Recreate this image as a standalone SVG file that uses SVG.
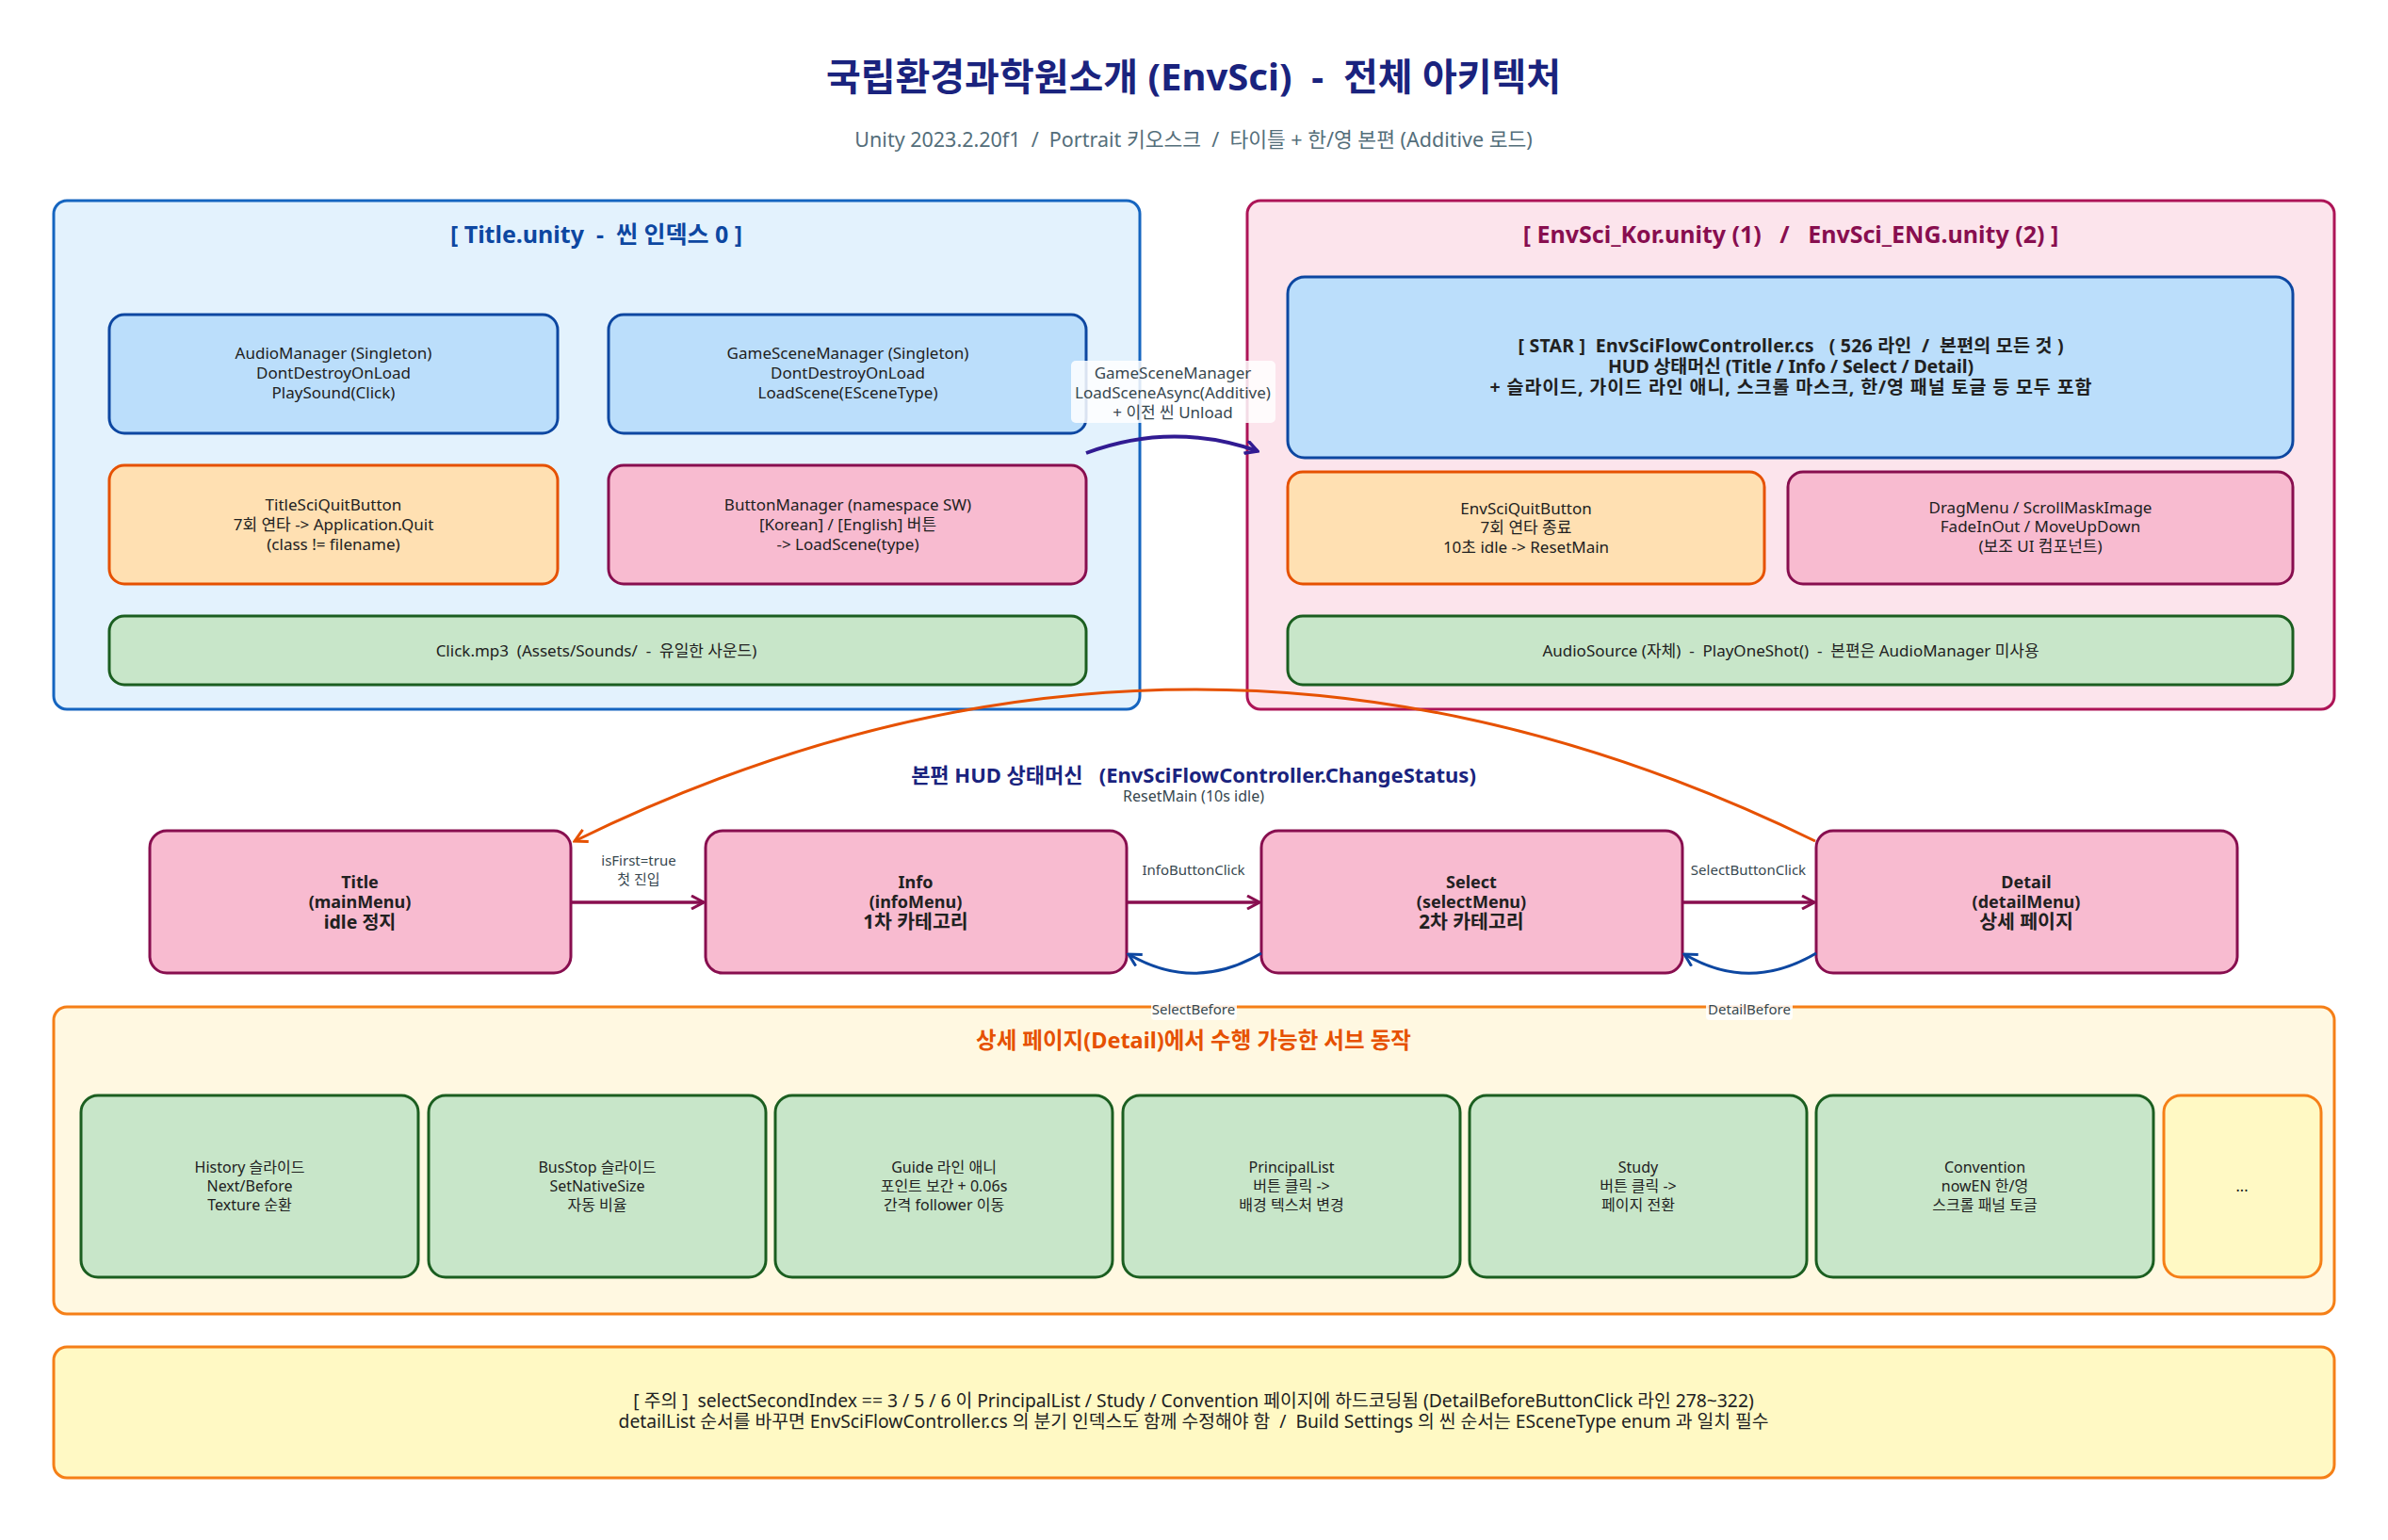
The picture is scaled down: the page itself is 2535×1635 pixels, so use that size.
<svg xmlns="http://www.w3.org/2000/svg" width="2535" height="1635" viewBox="0 0 2535 1635">
<style>
text { font-family: "Noto Sans", "Noto Sans CJK KR", sans-serif; text-anchor: middle; dominant-baseline: central; white-space: pre; }
.h1 { font-size: 40px; font-weight: 700; fill: #1a237e; }
.sub { font-size: 21.5px; fill: #546e7a; }
.ct { font-size: 25px; font-weight: 700; }
.t { font-size: 17px; fill: #212121; }
.s { font-size: 16px; fill: #212121; }
.tb { font-size: 19.5px; fill: #212121; font-weight: 700; }
.st { font-size: 18px; fill: #212121; font-weight: 700; }
.stk { font-size: 20.5px; fill: #212121; font-weight: 700; }
.lbl { font-size: 15px; fill: #37474f; }
.nt { font-size: 19.3px; fill: #212121; }
.blue { fill: #bbdefb; stroke: #0d47a1; stroke-width: 3; }
.orange { fill: #ffe0b2; stroke: #e65100; stroke-width: 3; }
.pink { fill: #f8bbd0; stroke: #880e4f; stroke-width: 3; }
.green { fill: #c8e6c9; stroke: #1b5e20; stroke-width: 3; }
.yellow { fill: #fff9c4; stroke: #f57f17; stroke-width: 3; }
.lblbg { fill: #ffffff; fill-opacity: 0.85; }
</style>
<defs>
<marker id="ahPurple" viewBox="0 0 16 16" refX="14" refY="8" markerWidth="16" markerHeight="16" markerUnits="userSpaceOnUse" orient="auto"><path d="M1,1 L14,8 L1,15" fill="none" stroke="#311b92" stroke-width="3.5"/></marker>
<marker id="ahRed" viewBox="0 0 16 16" refX="14" refY="8" markerWidth="16" markerHeight="16" markerUnits="userSpaceOnUse" orient="auto"><path d="M1,1 L14,8 L1,15" fill="none" stroke="#880e4f" stroke-width="3"/></marker>
<marker id="ahBlue" viewBox="0 0 16 16" refX="14" refY="8" markerWidth="16" markerHeight="16" markerUnits="userSpaceOnUse" orient="auto"><path d="M1,1 L14,8 L1,15" fill="none" stroke="#0d47a1" stroke-width="3"/></marker>
<marker id="ahOrange" viewBox="0 0 16 16" refX="14" refY="8" markerWidth="16" markerHeight="16" markerUnits="userSpaceOnUse" orient="auto"><path d="M1,1 L14,8 L1,15" fill="none" stroke="#e65100" stroke-width="3"/></marker>
</defs>
<rect width="2535" height="1635" fill="#ffffff"/>

<text class="h1" x="1267" y="80">국립환경과학원소개 (EnvSci)  -  전체 아키텍처</text>
<text class="sub" x="1267" y="147">Unity 2023.2.20f1  /  Portrait 키오스크  /  타이틀 + 한/영 본편 (Additive 로드)</text>

<g id="title-scene">
<rect x="57" y="213" width="1153" height="540" rx="14" fill="#e3f2fd" stroke="#1565c0" stroke-width="3"/>
<text class="ct" x="633" y="248" fill="#0d47a1">[ Title.unity  -  씬 인덱스 0 ]</text>
</g>
<g id="kor-eng-scene">
<rect x="1324" y="213" width="1154" height="540" rx="14" fill="#fce4ec" stroke="#ad1457" stroke-width="3"/>
<text class="ct" x="1901" y="248" fill="#880e4f">[ EnvSci_Kor.unity (1)   /   EnvSci_ENG.unity (2) ]</text>
</g>

<g id="audio-manager">
<rect class="blue" x="116" y="334" width="476" height="126" rx="16"/>
<text class="t" x="354" y="374">AudioManager (Singleton)</text>
<text class="t" x="354" y="395">DontDestroyOnLoad</text>
<text class="t" x="354" y="416">PlaySound(Click)</text>
</g>
<g id="game-scene-manager">
<rect class="blue" x="646" y="334" width="507" height="126" rx="16"/>
<text class="t" x="900" y="374">GameSceneManager (Singleton)</text>
<text class="t" x="900" y="395">DontDestroyOnLoad</text>
<text class="t" x="900" y="416">LoadScene(ESceneType)</text>
</g>
<g id="title-quit-button">
<rect class="orange" x="116" y="494" width="476" height="126" rx="16"/>
<text class="t" x="354" y="535">TitleSciQuitButton</text>
<text class="t" x="354" y="556">7회 연타 -&gt; Application.Quit</text>
<text class="t" x="354" y="577">(class != filename)</text>
</g>
<g id="button-manager">
<rect class="pink" x="646" y="494" width="507" height="126" rx="16"/>
<text class="t" x="900" y="535">ButtonManager (namespace SW)</text>
<text class="t" x="900" y="556">[Korean] / [English] 버튼</text>
<text class="t" x="900" y="577">-&gt; LoadScene(type)</text>
</g>
<g id="click-mp3">
<rect class="green" x="116" y="654" width="1037" height="73" rx="16"/>
<text class="t" x="633" y="690">Click.mp3  (Assets/Sounds/  -  유일한 사운드)</text>
</g>

<g id="flow-controller">
<rect class="blue" x="1367" y="294" width="1067" height="192" rx="18"/>
<text class="tb" x="1901" y="366" textLength="579" lengthAdjust="spacing">[ STAR ]  EnvSciFlowController.cs   ( 526 라인  /  본편의 모든 것 )</text>
<text class="tb" x="1901" y="388" textLength="388" lengthAdjust="spacing">HUD 상태머신 (Title / Info / Select / Detail)</text>
<text class="tb" x="1901" y="410" textLength="639" lengthAdjust="spacing">+ 슬라이드, 가이드 라인 애니, 스크롤 마스크, 한/영 패널 토글 등 모두 포함</text>
</g>
<g id="envsci-quit-button">
<rect class="orange" x="1367" y="501" width="506" height="119" rx="16"/>
<text class="t" x="1620" y="539">EnvSciQuitButton</text>
<text class="t" x="1620" y="559">7회 연타 종료</text>
<text class="t" x="1620" y="580">10초 idle -&gt; ResetMain</text>
</g>
<g id="drag-menu">
<rect class="pink" x="1898" y="501" width="536" height="119" rx="16"/>
<text class="t" x="2166" y="538">DragMenu / ScrollMaskImage</text>
<text class="t" x="2166" y="558">FadeInOut / MoveUpDown</text>
<text class="t" x="2166" y="579">(보조 UI 컴포넌트)</text>
</g>
<g id="audio-source">
<rect class="green" x="1367" y="654" width="1067" height="73" rx="16"/>
<text class="t" x="1901" y="690">AudioSource (자체)  -  PlayOneShot()  -  본편은 AudioManager 미사용</text>
</g>

<text x="1267" y="822" style="font-size:22px;font-weight:700;fill:#1a237e">본편 HUD 상태머신   (EnvSciFlowController.ChangeStatus)</text>

<g id="detail-actions">
<rect x="57" y="1069" width="2421" height="326" rx="14" fill="#fff8e1" stroke="#f57f17" stroke-width="3"/>
<text x="1267" y="1104" style="font-size:23.5px;font-weight:700;fill:#e65100">상세 페이지(Detail)에서 수행 가능한 서브 동작</text>
</g>

<g id="state-title">
<rect class="pink" x="159" y="882" width="447" height="151" rx="18"/>
<text class="st" x="382" y="936">Title</text>
<text class="st" x="382" y="957">(mainMenu)</text>
<text class="stk" x="382" y="978" style="font-size:19.5px">idle 정지</text>
</g>
<g id="state-info">
<rect class="pink" x="749" y="882" width="447" height="151" rx="18"/>
<text class="st" x="972" y="936">Info</text>
<text class="st" x="972" y="957">(infoMenu)</text>
<text class="stk" x="972" y="978">1차 카테고리</text>
</g>
<g id="state-select">
<rect class="pink" x="1339" y="882" width="447" height="151" rx="18"/>
<text class="st" x="1562" y="936">Select</text>
<text class="st" x="1562" y="957">(selectMenu)</text>
<text class="stk" x="1562" y="978">2차 카테고리</text>
</g>
<g id="state-detail">
<rect class="pink" x="1928" y="882" width="447" height="151" rx="18"/>
<text class="st" x="2151" y="936">Detail</text>
<text class="st" x="2151" y="957">(detailMenu)</text>
<text class="stk" x="2151" y="978">상세 페이지</text>
</g>

<g id="sub-history">
<rect class="green" x="86" y="1163" width="358" height="193" rx="18"/>
<text class="s" x="265" y="1239">History 슬라이드</text>
<text class="s" x="265" y="1259">Next/Before</text>
<text class="s" x="265" y="1279">Texture 순환</text>
</g>
<g id="sub-busstop">
<rect class="green" x="455" y="1163" width="358" height="193" rx="18"/>
<text class="s" x="634" y="1239">BusStop 슬라이드</text>
<text class="s" x="634" y="1259">SetNativeSize</text>
<text class="s" x="634" y="1279">자동 비율</text>
</g>
<g id="sub-guide">
<rect class="green" x="823" y="1163" width="358" height="193" rx="18"/>
<text class="s" x="1002" y="1239">Guide 라인 애니</text>
<text class="s" x="1002" y="1259">포인트 보간 + 0.06s</text>
<text class="s" x="1002" y="1279">간격 follower 이동</text>
</g>
<g id="sub-principal">
<rect class="green" x="1192" y="1163" width="358" height="193" rx="18"/>
<text class="s" x="1371" y="1239">PrincipalList</text>
<text class="s" x="1371" y="1259">버튼 클릭 -&gt;</text>
<text class="s" x="1371" y="1279">배경 텍스처 변경</text>
</g>
<g id="sub-study">
<rect class="green" x="1560" y="1163" width="358" height="193" rx="18"/>
<text class="s" x="1739" y="1239">Study</text>
<text class="s" x="1739" y="1259">버튼 클릭 -&gt;</text>
<text class="s" x="1739" y="1279">페이지 전환</text>
</g>
<g id="sub-convention">
<rect class="green" x="1928" y="1163" width="358" height="193" rx="18"/>
<text class="s" x="2107" y="1239">Convention</text>
<text class="s" x="2107" y="1259">nowEN 한/영</text>
<text class="s" x="2107" y="1279">스크롤 패널 토글</text>
</g>
<g id="sub-more">
<rect class="yellow" x="2297" y="1163" width="167" height="193" rx="18"/>
<text class="s" x="2380" y="1259">...</text>
</g>

<g id="note">
<rect class="yellow" x="57" y="1430" width="2421" height="139" rx="14"/>
<text class="nt" x="1267" y="1486">[ 주의 ]  selectSecondIndex == 3 / 5 / 6 이 PrincipalList / Study / Convention 페이지에 하드코딩됨 (DetailBeforeButtonClick 라인 278~322)</text>
<text class="nt" x="1267" y="1508">detailList 순서를 바꾸면 EnvSciFlowController.cs 의 분기 인덱스도 함께 수정해야 함  /  Build Settings 의 씬 순서는 ESceneType enum 과 일치 필수</text>
</g>

<g id="connectors" fill="none">
<path d="M1153,481 Q1244,447 1335,479" stroke="#311b92" stroke-width="4" marker-end="url(#ahPurple)"/>
<rect class="lblbg" x="1137" y="383" width="217" height="66" rx="5"/>
<text class="lbl" x="1245" y="395" style="font-size:17px">GameSceneManager</text>
<text class="lbl" x="1245" y="416" style="font-size:17px">LoadSceneAsync(Additive)</text>
<text class="lbl" x="1245" y="437" style="font-size:17px">+ 이전 씬 Unload</text>

<path d="M1927,893 Q1268,571 610,893" stroke="#e65100" stroke-width="3" marker-end="url(#ahOrange)"/>
<text class="lbl" x="1267" y="845" style="font-size:16px">ResetMain (10s idle)</text>

<path d="M606,958 L747,958" stroke="#880e4f" stroke-width="3.5" marker-end="url(#ahRed)"/>
<text class="lbl" x="678" y="913">isFirst=true</text>
<text class="lbl" x="678" y="933">첫 진입</text>

<path d="M1196,958 L1337,958" stroke="#880e4f" stroke-width="3.5" marker-end="url(#ahRed)"/>
<text class="lbl" x="1267" y="923">InfoButtonClick</text>

<path d="M1786,958 L1926,958" stroke="#880e4f" stroke-width="3.5" marker-end="url(#ahRed)"/>
<text class="lbl" x="1856" y="923">SelectButtonClick</text>

<path d="M1339,1012 Q1268,1054 1198,1013" stroke="#0d47a1" stroke-width="3" marker-end="url(#ahBlue)"/>
<rect class="lblbg" x="1222" y="1061" width="91" height="22" rx="4"/>
<text class="lbl" x="1267" y="1071">SelectBefore</text>

<path d="M1928,1012 Q1857,1054 1788,1013" stroke="#0d47a1" stroke-width="3" marker-end="url(#ahBlue)"/>
<rect class="lblbg" x="1811" y="1061" width="92" height="22" rx="4"/>
<text class="lbl" x="1857" y="1071">DetailBefore</text>
</g>
</svg>
